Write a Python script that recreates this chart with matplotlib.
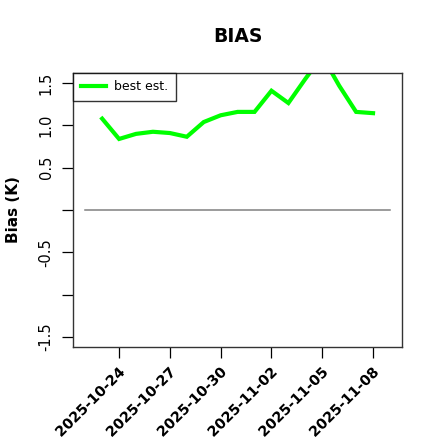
import numpy as np
import pandas as pd
import matplotlib
matplotlib.use("Agg")
import matplotlib.pyplot as plt
import matplotlib.transforms as mtransforms
import matplotlib.patheffects as pe

# ------------------ DATOS ------------------

fechas = pd.date_range("2025-10-23", "2025-11-08", freq="D")
bias_best = [1.08, 0.84, 0.90, 0.925, 0.91, 0.866, 1.04, 1.12, 1.16, 1.16,
             1.41, 1.265, 1.55, 1.82, 1.47, 1.16, 1.145]
tick_fechas = pd.date_range("2025-10-24", "2025-11-08", freq="3D")
y_ticks = [-1.5, -1.0, -0.5, 0.0, 0.5, 1.0, 1.5]
y_labels = ["-1.5", "", "-0.5", "", "0.5", "1.0", "1.5"]

# ------------------ FIGURA ------------------

fig = plt.figure(figsize=(4.4, 4.4), dpi=100)
ax = fig.add_axes([0.166, 0.2114, 0.748, 0.6227])

# linea de referencia en cero (un dia antes/despues de los datos)
x0 = fechas[0] - pd.Timedelta(days=1)
x1 = fechas[-1] + pd.Timedelta(days=1)
ax.plot([x0, x1], [0, 0], color="#808080", lw=1.1)

ax.plot(fechas, bias_best, color="#00FF00", lw=3, solid_joinstyle="miter",
        label="best est.")

# rango estilo R (4% extra)
span = (x1 - x0) * 0.04
ax.set_xlim(x0 - span, x1 + span)
ax.set_ylim(-1.5 * 1.08, 1.5 * 1.08)

ax.set_yticks(y_ticks)
ax.set_yticklabels(y_labels, rotation=90, va="center", fontsize=10.5)
ax.set_xticks(tick_fechas)
ax.set_xticklabels([])

# etiquetas de fecha giradas a mano (estilo R: text(srt=45, adj=1))
# path_effects -> se dibujan como trazos, sin saltos de glifos al rotar
trans = mtransforms.blended_transform_factory(ax.transData, ax.transAxes)
trans = trans + mtransforms.ScaledTranslation(-2 / 100, -19 / 100, fig.dpi_scale_trans)
for f in tick_fechas:
    ax.text(f, 0, f.strftime("%Y-%m-%d"), transform=trans, rotation=45,
            rotation_mode="anchor", ha="right", va="top",
            fontsize=10.3, fontweight="bold", clip_on=False,
            path_effects=[pe.Normal()])

ax.tick_params(axis="both", direction="out", length=8, width=0.9, color="black")
ax.tick_params(axis="y", pad=6)
for s in ax.spines.values():
    s.set_color("#333333")
    s.set_linewidth(1.0)

ax.set_title("BIAS", fontsize=13.5, fontweight="bold", pad=22)
ax.set_ylabel("Bias (K)", fontsize=11, fontweight="bold", labelpad=13)

leg = ax.legend(loc="upper left", fontsize=9, frameon=True, fancybox=False,
                borderaxespad=0, handlelength=2.0, handletextpad=0.7,
                borderpad=0.6)
leg.get_frame().set_edgecolor("black")
leg.get_frame().set_linewidth(1.0)

fig.savefig("out.png", dpi=100)
